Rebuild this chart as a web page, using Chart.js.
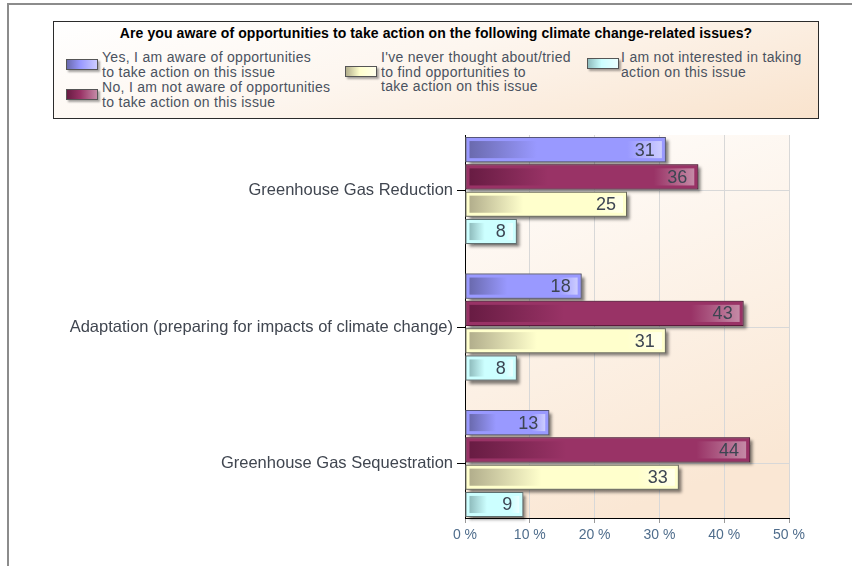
<!DOCTYPE html>
<html lang="en">
<head>
<meta charset="UTF-8">
<title>Climate change-related issues</title>
<script src="https://cdn.jsdelivr.net/npm/chart.js"></script>
<style>
body { margin: 0; background: #fff; font-family: 'Liberation Sans', Arial, sans-serif; }
#wrap { position: relative; width: 852px; height: 566px; overflow: hidden; }
#frame { position: absolute; left: 7px; top: 3px; right: -10px; bottom: -10px;
         border-left: 2px solid #8c8c8c; border-top: 2px solid #8c8c8c; }
#chart { position: absolute; left: 0; top: 0; }
/* legend box on top */
.legend-box { position: absolute; left: 53px; top: 21px; width: 764px; height: 96px;
              border: 1px solid #2b2b2b;
              background: linear-gradient(165deg, #ffffff 0%, #fdf6ef 45%, #f9e3cd 100%); }
.legend-title { position: absolute; left: 0; right: 0; top: 3px; text-align: center;
                font-weight: bold; font-size: 14px; color: #000; letter-spacing: 0.1px; }
.legend-item { position: absolute; }
.legend-item .sw { position: absolute; width: 30px; height: 9px; border: 1px solid #555;
                   box-shadow: 2px 2px 2px rgba(0,0,0,0.35); }
.legend-item .txt { position: absolute; white-space: pre; font-size: 14px; line-height: 14.5px;
                    color: #4a5260; letter-spacing: 0.3px; }
</style>
</head>
<body>
<div id="wrap">
    <div id="frame"></div>
    <canvas id="chart" width="852" height="566"></canvas>
    <div class="legend-box" id="legend">
        <div class="legend-title">Are you aware of opportunities to take action on the following climate change-related issues?</div>
    </div>
</div>

<script>
// data
var categories = [
    'Greenhouse Gas Reduction',
    'Adaptation (preparing for impacts of climate change)',
    'Greenhouse Gas Sequestration'
];
var seriesNames = [
    'Yes, I am aware of opportunities\nto take action on this issue',
    'No, I am not aware of opportunities\nto take action on this issue',
    "I've never thought about/tried\nto find opportunities to\ntake action on this issue",
    'I am not interested in taking\naction on this issue'
];
var yesAware = [31, 18, 13];
var notAware = [36, 43, 44];
var neverTried = [25, 31, 33];
var notInterested = [8, 8, 9];
var xTicks = [0, 10, 20, 30, 40, 50];

var seriesValues = [yesAware, notAware, neverTried, notInterested];

// colours: base, dark (left of bar), light (right end), outline
var baseColors  = ['#9999ff', '#993366', '#ffffcc', '#ccffff'];
var darkColors  = ['#6a6aae', '#681c43', '#b2ae8c', '#8fbcbd'];
var lightColors = ['#cdcdff', '#c48aa6', '#ffffec', '#ebffff'];
var edgeColors  = ['#55557a', '#5c1a3c', '#6a6a5a', '#5f7070'];

// legend placement inside the box (px)
var legendSpots = [
    { sw: [12, 37], txt: [48, 28] },
    { sw: [12, 67], txt: [48, 58] },
    { sw: [291, 44], txt: [327, 28] },
    { sw: [533, 36], txt: [567, 28] }
];

var legendEl = document.getElementById('legend');
seriesNames.forEach(function (name, i) {
    var item = document.createElement('div');
    item.className = 'legend-item';
    var sw = document.createElement('div');
    sw.className = 'sw';
    sw.style.left = legendSpots[i].sw[0] + 'px';
    sw.style.top = legendSpots[i].sw[1] + 'px';
    sw.style.background = 'linear-gradient(90deg,' + darkColors[i] + ' 0%,' + baseColors[i] + ' 45%,' + lightColors[i] + ' 100%)';
    var txt = document.createElement('div');
    txt.className = 'txt';
    txt.style.left = legendSpots[i].txt[0] + 'px';
    txt.style.top = legendSpots[i].txt[1] + 'px';
    txt.textContent = name;
    item.appendChild(sw);
    item.appendChild(txt);
    legendEl.appendChild(item);
});

// plot area background
var plotBg = {
    id: 'plotBg',
    beforeDraw: function (chart) {
        var ctx = chart.ctx, a = chart.chartArea;
        var g = ctx.createLinearGradient(a.left, a.top, a.left + 140, a.bottom);
        g.addColorStop(0, '#fffefd');
        g.addColorStop(1, '#fae7d4');
        ctx.save();
        ctx.fillStyle = g;
        ctx.fillRect(a.left, a.top, a.right - a.left, a.bottom - a.top);
        ctx.restore();
    }
};

function eachBar(chart, fn) {
    chart.data.datasets.forEach(function (ds, i) {
        chart.getDatasetMeta(i).data.forEach(function (bar, j) {
            var left = Math.min(bar.base, bar.x);
            var right = Math.max(bar.base, bar.x);
            var top = bar.y - bar.height / 2;
            fn(bar, i, j, left, right, top, bar.height);
        });
    });
}

// shadows, inner shading and value labels
var barStyle = {
    id: 'barStyle',
    beforeDatasetsDraw: function (chart) {
        var ctx = chart.ctx;
        ctx.save();
        ctx.shadowColor = 'rgba(0,0,0,0.5)';
        ctx.shadowOffsetX = 3;
        ctx.shadowOffsetY = 3;
        ctx.shadowBlur = 3;
        ctx.fillStyle = '#888';
        eachBar(chart, function (bar, i, j, left, right, top, h) {
            ctx.fillRect(left, top, right - left, h);
        });
        ctx.restore();
    },
    afterDatasetsDraw: function (chart) {
        var ctx = chart.ctx;
        ctx.save();
        eachBar(chart, function (bar, i, j, left, right, top, h) {
            var x0 = left + 4, x1 = right - 4;
            if (x1 <= x0) return;
            var g = ctx.createLinearGradient(x0, 0, x1, 0);
            g.addColorStop(0, darkColors[i]);
            g.addColorStop(0.35, baseColors[i]);
            g.addColorStop(0.82, baseColors[i]);
            g.addColorStop(1, lightColors[i]);
            ctx.fillStyle = g;
            ctx.fillRect(x0, top + 4, x1 - x0, h - 8);
        });
        ctx.font = '18px "Liberation Sans", Arial, sans-serif';
        ctx.fillStyle = '#3d4552';
        ctx.textAlign = 'right';
        ctx.textBaseline = 'middle';
        eachBar(chart, function (bar, i, j, left, right, top, h) {
            ctx.fillText(seriesValues[i][j], right - 11, bar.y + 1);
        });
        ctx.restore();
    }
};

var family = "'Liberation Sans', Arial, sans-serif";

new Chart(document.getElementById('chart'), {
    type: 'bar',
    data: {
        datasets: seriesNames.map(function (name, i) {
            return {
                label: name,
                data: seriesValues[i].map(function (v, j) { return { x: v, y: j }; }),
                backgroundColor: baseColors[i],
                borderColor: edgeColors[i],
                borderWidth: 1,
                borderSkipped: false,
                categoryPercentage: 0.8,
                barPercentage: 0.92
            };
        })
    },
    options: {
        indexAxis: 'y',
        responsive: false,
        animation: false,
        layout: { padding: { top: 135, right: 63, left: 0, bottom: 0 } },
        plugins: { legend: { display: false }, tooltip: { enabled: false } },
        scales: {
            x: {
                type: 'linear',
                position: 'bottom',
                offset: false,
                min: xTicks[0],
                max: xTicks[xTicks.length - 1],
                afterBuildTicks: function (s) { s.ticks = xTicks.map(function (v) { return { value: v }; }); },
                ticks: {
                    callback: function (v) { return v + ' %'; },
                    color: '#4f6d8c',
                    font: { size: 14, family: family },
                    padding: 4
                },
                grid: { offset: false, color: '#d8d8d8', tickColor: '#9a9a9a', tickLength: 5 },
                border: { color: '#000' },
                afterFit: function (s) { s.height = 48; }
            },
            y: {
                type: 'linear',
                reverse: true,
                offset: false,
                min: -0.407,
                max: 2.399,
                afterBuildTicks: function (s) { s.ticks = categories.map(function (c, i) { return { value: i }; }); },
                ticks: {
                    callback: function (v) { return categories[v]; },
                    color: '#404650',
                    font: { size: 16.5, family: family },
                    padding: 4
                },
                grid: { offset: false, color: '#d8d8d8', tickColor: '#000', tickLength: 8 },
                border: { color: '#000' },
                afterFit: function (s) { s.width = 465; }
            }
        }
    },
    plugins: [plotBg, barStyle]
});
</script>
</body>
</html>
